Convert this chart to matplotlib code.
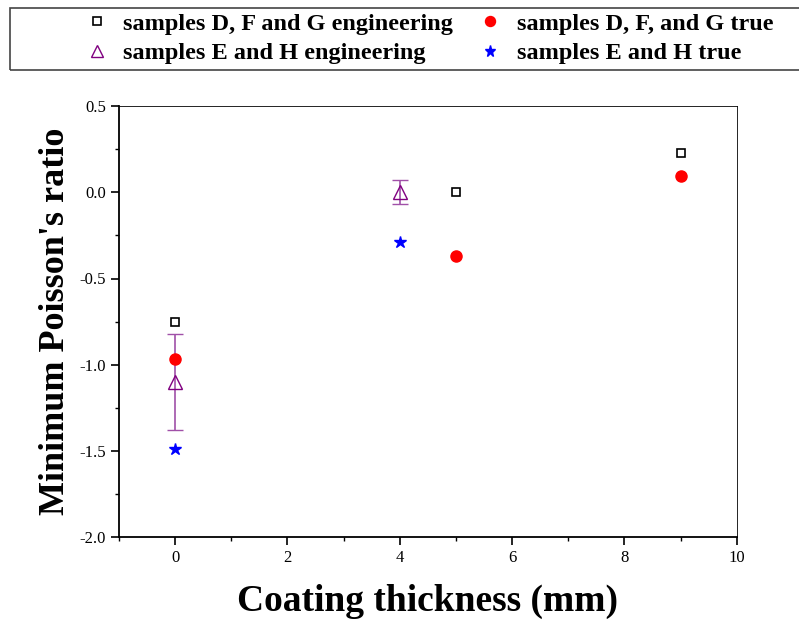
import matplotlib.pyplot as plt
from matplotlib.patches import Rectangle
from matplotlib.ticker import MultipleLocator

plt.rcParams['font.family'] = ['Liberation Serif', 'DejaVu Serif']

# coating thickness (mm)
x_dfg = [0, 5, 9]
eng_dfg = [-0.75, 0.0, 0.23]
true_dfg = [-0.97, -0.37, 0.095]

x_eh = [0, 4]
eng_eh = [-1.10, 0.0]
eng_eh_err = [0.28, 0.07]
true_eh = [-1.49, -0.29]

fig = plt.figure(figsize=(7.99, 6.25), dpi=100)
ax = fig.add_axes([0.149, 0.141, 0.773, 0.689])

h1, = ax.plot(x_dfg, eng_dfg, 's', ms=6, mfc='none', mec='black', mew=1.2, ls='none')
h3 = ax.errorbar(x_eh, eng_eh, yerr=eng_eh_err, fmt='^', ms=10, mfc='none', mec='#800080',
                 mew=1.0, ecolor='#a050a8', elinewidth=1.2, capsize=6, capthick=1.2)
h2, = ax.plot(x_dfg, true_dfg, 'o', ms=8, color='red', ls='none')
h4, = ax.plot(x_eh, true_eh, '*', ms=9, color='blue', ls='none')

ax.set_xlim(-1, 10)
ax.set_ylim(-2.0, 0.5)
ax.xaxis.set_major_locator(MultipleLocator(2))
ax.xaxis.set_minor_locator(MultipleLocator(1))
ax.yaxis.set_major_locator(MultipleLocator(0.5))
ax.yaxis.set_minor_locator(MultipleLocator(0.25))
ax.yaxis.set_major_formatter(plt.FuncFormatter(lambda v, p: '%.1f' % v))
ax.spines['top'].set_linewidth(0.6)
ax.spines['right'].set_linewidth(0.6)
ax.spines['left'].set_linewidth(1.3)
ax.spines['bottom'].set_linewidth(1.3)
ax.tick_params(which='major', direction='out', length=6, width=1.2, labelsize=12)
ax.tick_params(which='minor', direction='out', length=3, width=1.0)

ax.set_xlabel('Coating thickness (mm)', fontsize=27, fontweight='bold', labelpad=13)
ax.set_ylabel("Minimum Poisson's ratio", fontsize=26, fontweight='bold', labelpad=5)

fig.patches.append(Rectangle((0.012, 0.888), 1.0, 0.1, transform=fig.transFigure,
                             fill=False, ec='#444444', lw=1.2))
fig.legend([h1, h3[0], h2, h4],
           ['samples D, F and G engineering', 'samples E and H engineering',
            'samples D, F, and G true', 'samples E and H true'],
           ncol=2, loc='upper left', bbox_to_anchor=(0.0876, 1.003), frameon=False,
           prop={'weight': 'bold', 'size': 17.5}, handlelength=1.0, handletextpad=0.6,
           columnspacing=1.0, labelspacing=0.3, borderpad=0.1, markerscale=0.9)

fig.savefig('out.png', dpi=100)
